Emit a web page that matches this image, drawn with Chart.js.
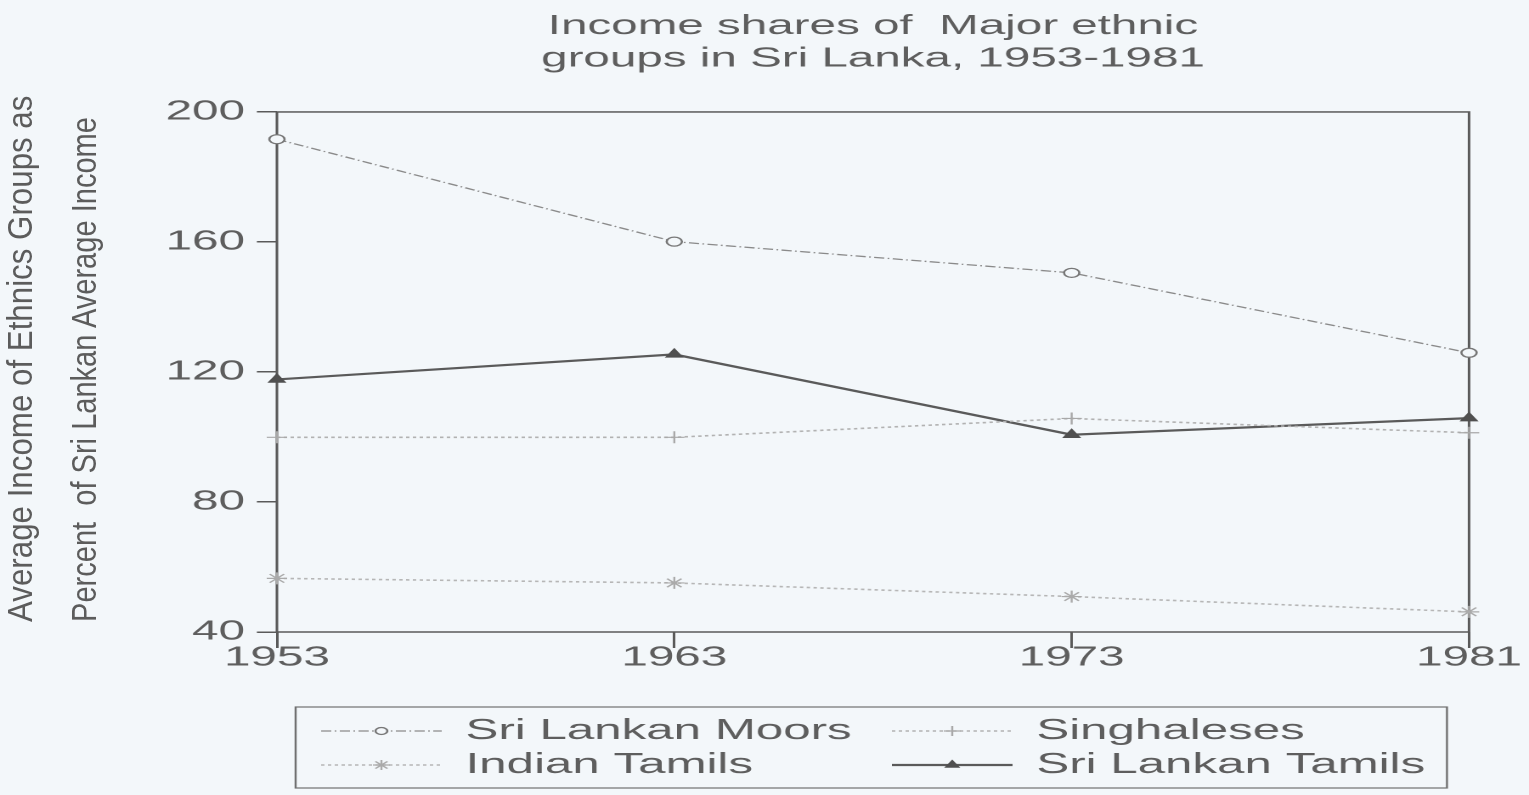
<!DOCTYPE html>
<html lang="en">
<head>
<meta charset="UTF-8">
<meta name="viewport" content="width=device-width, initial-scale=1.0">
<title>Income shares of Major ethnic groups in Sri Lanka</title>
<script src="https://cdn.jsdelivr.net/npm/chart.js"></script>
<style>
    html, body { margin: 0; padding: 0; background: #f3f7fa; overflow: hidden; }
    /* the original plot is stretched sideways, so the canvas is too */
    #wrap { position: absolute; left: 0; top: 0; width: 900px; height: 795px;
            transform-origin: 0 0; transform: scaleX(1.6989); }
    .ytitle { position: absolute; top: 622px; transform-origin: 0 0;
              white-space: pre; color: #5c5c5c;
              font: 35px "Liberation Sans", Arial, sans-serif; line-height: 35px; }
    #yt1 { left: 2px; transform: rotate(-90deg) scaleX(0.894); }
    #yt2 { left: 66px; transform: rotate(-90deg) scaleX(0.83); }
</style>
</head>
<body>
<div id="wrap"><canvas id="chart" width="900" height="795"></canvas></div>
<div class="ytitle" id="yt1">Average Income of Ethnics Groups as</div>
<div class="ytitle" id="yt2">Percent  of Sri Lankan Average Income</div>

<script>
    var years = ['1953', '1963', '1973', '1981'];
    var moors = [191.6, 160.1, 150.5, 125.9];
    var singhaleses = [99.9, 99.9, 105.7, 101.3];
    var indianTamils = [56.5, 55.1, 50.9, 46.2];
    var slTamils = [117.7, 125.4, 100.7, 105.8];
    var yTicks = [40, 80, 120, 160, 200];
    var titleLines = ['Income shares of  Major ethnic', 'groups in Sri Lanka, 1953-1981'];

    var textColor = '#5e5e5e';
    var axisColor = '#5a5a5a';
    var bg = '#f3f7fa';
    Chart.defaults.font.family = '"Liberation Sans", Arial, sans-serif';

    // box round the plot area
    var framePlugin = {
        id: 'frame',
        beforeDatasetsDraw: function (chart) {
            var a = chart.chartArea, ctx = chart.ctx;
            ctx.save();
            ctx.strokeStyle = axisColor;
            ctx.lineWidth = 1.5;
            ctx.strokeRect(a.left, a.top, a.right - a.left, a.bottom - a.top);
            ctx.restore();
        }
    };

    // 2x2 legend in a box, line sample with marker in the middle
    var boxLegend = {
        id: 'boxLegend',
        afterDraw: function (chart) {
            var ctx = chart.ctx, a = chart.chartArea;
            var left = a.left + 11, right = a.right - 13;
            var top = a.bottom + 75, bottom = a.bottom + 156;
            ctx.save();
            ctx.strokeStyle = '#707070';
            ctx.lineWidth = 1.2;
            ctx.strokeRect(left, top, right - left, bottom - top);
            var colX = [left + 15, left + 351];
            var rowY = [top + 24, top + 58];
            chart.data.datasets.forEach(function (ds, i) {
                var x0 = colX[i % 2], y = rowY[Math.floor(i / 2)], w = 71;
                ctx.save();
                ctx.strokeStyle = ds.borderColor;
                ctx.lineWidth = ds.borderWidth;
                ctx.setLineDash(ds.borderDash || []);
                ctx.beginPath();
                ctx.moveTo(x0, y);
                ctx.lineTo(x0 + w, y);
                ctx.stroke();
                ctx.setLineDash([]);
                ctx.fillStyle = ds.pointBackgroundColor;
                ctx.strokeStyle = ds.pointBorderColor;
                ctx.lineWidth = ds.pointBorderWidth;
                if (Chart.helpers && Chart.helpers.drawPoint) {
                    Chart.helpers.drawPoint(ctx, {
                        pointStyle: ds.pointStyle, radius: ds.pointRadius - 1,
                        rotation: 0, borderWidth: ds.pointBorderWidth
                    }, x0 + w / 2, y);
                }
                ctx.restore();
                ctx.fillStyle = textColor;
                ctx.font = '29px "Liberation Sans", Arial, sans-serif';
                ctx.textBaseline = 'middle';
                ctx.textAlign = 'left';
                ctx.fillText(ds.label, x0 + 85, y);
            });
            ctx.restore();
        }
    };

    new Chart(document.getElementById('chart'), {
        type: 'line',
        data: {
            labels: years,
            datasets: [{
                label: 'Sri Lankan Moors',
                data: moors,
                borderColor: '#8a8a8a',
                borderWidth: 1.3,
                borderDash: [6, 2, 1, 2],
                pointStyle: 'circle',
                pointRadius: 4.5,
                pointBorderWidth: 1.3,
                pointBorderColor: '#777777',
                pointBackgroundColor: bg
            }, {
                label: 'Singhaleses',
                data: singhaleses,
                borderColor: '#b2b2b2',
                borderWidth: 1.6,
                borderDash: [2, 2],
                pointStyle: 'cross',
                pointRadius: 6,
                pointBorderWidth: 1.2,
                pointBorderColor: '#a8a8a8',
                pointBackgroundColor: '#a8a8a8'
            }, {
                label: 'Indian Tamils',
                data: indianTamils,
                borderColor: '#b6b6b6',
                borderWidth: 1.6,
                borderDash: [2, 2],
                pointStyle: 'star',
                pointRadius: 6,
                pointBorderWidth: 1.2,
                pointBorderColor: '#aaaaaa',
                pointBackgroundColor: '#aaaaaa'
            }, {
                label: 'Sri Lankan Tamils',
                data: slTamils,
                borderColor: '#5a5a5a',
                borderWidth: 2.2,
                pointStyle: 'triangle',
                pointRadius: 5.5,
                pointBorderWidth: 1,
                pointBorderColor: '#505050',
                pointBackgroundColor: '#505050'
            }]
        },
        plugins: [framePlugin, boxLegend],
        options: {
            responsive: false,
            devicePixelRatio: 2,
            animation: false,
            layout: { padding: { left: 97.5, right: 35.3, top: 0, bottom: 123 } },
            plugins: {
                legend: { display: false },
                tooltip: { enabled: false },
                title: {
                    display: true,
                    text: titleLines,
                    fullSize: false,
                    color: textColor,
                    font: { size: 28, weight: 'normal', lineHeight: 1.16 },
                    padding: { top: 10, bottom: 37 }
                }
            },
            scales: {
                x: {
                    offset: false,
                    border: { display: false },
                    grid: { drawOnChartArea: false, drawTicks: true, tickLength: 16, color: axisColor, lineWidth: 1.5 },
                    ticks: { color: textColor, font: { size: 28, lineHeight: 1 }, padding: -4, maxRotation: 0, autoSkip: false },
                    afterFit: function (s) { s.height = 40; }
                },
                y: {
                    min: yTicks[0],
                    max: yTicks[yTicks.length - 1],
                    border: { display: false },
                    grid: { drawOnChartArea: false, drawTicks: true, tickLength: 11.8, color: axisColor, lineWidth: 1.5 },
                    ticks: { stepSize: yTicks[1] - yTicks[0], color: textColor, font: { size: 28 }, padding: 7 },
                    afterFit: function (s) { s.width = 65.5; }
                }
            }
        }
    });
</script>
</body>
</html>
